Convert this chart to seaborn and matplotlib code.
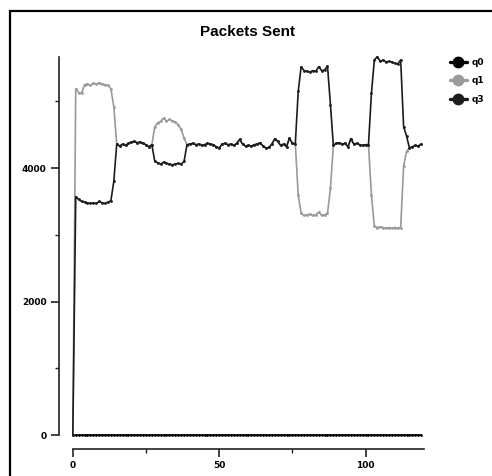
import matplotlib
matplotlib.use("Agg")
import matplotlib.pyplot as plt
import numpy as np
import pandas as pd
import seaborn as sns
from matplotlib.patches import Rectangle

# ---- data ----
x_vals = list(range(0, 120))
q0 = [0] * 120
q1 = [0,
      5190, 5130, 5120, 5250, 5260, 5240, 5270, 5260, 5280, 5260, 5250, 5240, 5190,   # 1-13
      4920, 4360,                                                                    # 14-15
      4330, 4360, 4340, 4370, 4390, 4400, 4380, 4390, 4370, 4350, 4320,              # 16-26
      4350, 4620, 4680, 4700, 4750, 4700, 4730, 4710, 4690, 4650, 4580, 4450, 4350,  # 27-39
      4360, 4370, 4350, 4360, 4340, 4350, 4370, 4360, 4350, 4320, 4300, 4360, 4370,  # 40-52
      4350, 4360, 4340, 4370, 4430, 4360, 4330, 4340, 4330, 4350, 4360, 4380, 4330,  # 53-65
      4300, 4310, 4360, 4440, 4400, 4340, 4360, 4320, 4450, 4370,                    # 66-75
      4360, 3600, 3320, 3290, 3300, 3310, 3290, 3300, 3340, 3290, 3300, 3320,        # 76-87
      3700, 4340,                                                                    # 88-89
      4370, 4380, 4360, 4370, 4320, 4440, 4360, 4370, 4350, 4340, 4350,              # 90-100
      4350, 3600, 3130, 3110, 3120, 3110, 3100, 3110, 3100, 3110, 3100, 3110,        # 101-112
      4030, 4250, 4300, 4320, 4340, 4330, 4360]                                      # 113-119
q3 = [0,
      3570, 3530, 3500, 3490, 3480, 3470, 3480, 3470, 3500, 3480, 3470, 3490, 3510,  # 1-13
      3800, 4360,                                                                    # 14-15
      4330, 4360, 4340, 4370, 4390, 4400, 4380, 4390, 4370, 4350, 4320,              # 16-26
      4350, 4100, 4080, 4060, 4090, 4070, 4060, 4050, 4060, 4070, 4060, 4100, 4350,  # 27-39
      4360, 4370, 4350, 4360, 4340, 4350, 4370, 4360, 4350, 4320, 4300, 4360, 4370,  # 40-52
      4350, 4360, 4340, 4370, 4430, 4360, 4330, 4340, 4330, 4350, 4360, 4380, 4330,  # 53-65
      4300, 4310, 4360, 4440, 4400, 4340, 4360, 4320, 4450, 4370,                    # 66-75
      4360, 5150, 5520, 5460, 5450, 5440, 5460, 5450, 5520, 5460, 5470, 5530,        # 76-87
      4950, 4340,                                                                    # 88-89
      4370, 4380, 4360, 4370, 4320, 4440, 4360, 4370, 4350, 4340, 4350,              # 90-100
      4350, 5120, 5620, 5670, 5600, 5620, 5590, 5600, 5590, 5570, 5560, 5620,        # 101-112
      4620, 4480, 4300, 4320, 4340, 4330, 4360]                                      # 113-119
series_names = ["q0", "q1", "q3"]
series_colors = ["#000000", "#9a9a9a", "#1c1c1c"]
x_ticks = [0, 50, 100]
y_ticks = [0, 2000, 4000]
title = "Packets Sent"

df = pd.DataFrame({
    "x": x_vals * 3,
    "value": q0 + q1 + q3,
    "queue": ["q0"] * len(q0) + ["q1"] * len(q1) + ["q3"] * len(q3),
})

sns.set_style("white")
plt.rcParams["text.color"] = "black"
plt.rcParams["xtick.color"] = "black"
plt.rcParams["ytick.color"] = "black"
fig = plt.figure(figsize=(4.92, 4.76), dpi=100)
ax = fig.add_axes([0.148, 0.086, 0.714, 0.795])

sns.lineplot(data=df, x="x", y="value", hue="queue", hue_order=series_names,
             palette=dict(zip(series_names, series_colors)),
             marker="o", markersize=2.0, markeredgewidth=0, linewidth=1.2,
             ax=ax, legend=True)
for ln in ax.lines:
    ln.set_clip_on(False)

ax.set_xlim(0, 120)
ax.set_ylim(0, 5670)
ax.set_xticks(x_ticks)
ax.set_yticks(y_ticks)
ax.set_xticks([25, 75], minor=True)
ax.set_yticks([1000, 3000, 5000], minor=True)
ax.set_xlabel("")
ax.set_ylabel("")
sns.despine(ax=ax, offset=10)
for s in ["left", "bottom"]:
    ax.spines[s].set_linewidth(1.2)
    ax.spines[s].set_color("#222222")
ax.tick_params(axis="both", which="major", length=6, width=1.2, color="#222222",
               labelsize=6.5, labelcolor="black", pad=3, direction="out",
               left=True, bottom=True)
ax.tick_params(axis="both", which="minor", length=3, width=1.0, color="#222222",
               direction="out", left=True, bottom=True)
for lab in ax.get_xticklabels() + ax.get_yticklabels():
    lab.set_fontweight("bold")
    lab.set_family("DejaVu Sans")

leg = ax.legend(loc="upper left", bbox_to_anchor=(1.05, 1.018), frameon=False,
                handlelength=1.9, handletextpad=0.5, labelspacing=1.05,
                prop={"family": "DejaVu Sans", "weight": "bold", "size": 6.5})
for h in leg.legend_handles:
    h.set_markersize(8.5)
    h.set_linewidth(2.4)
for t in leg.get_texts():
    t.set_color("black")

fig.text(248 / 492, 1 - 32 / 476, title, ha="center", va="center",
         fontsize=11, fontweight="bold", family="Liberation Sans", color="black")

fig.patches.append(Rectangle((10 / 492, -0.5), 2.0, 1.5 - 11 / 476,
                             transform=fig.transFigure, fill=False,
                             edgecolor="black", linewidth=1.6))

fig.savefig("out.png", dpi=100)
